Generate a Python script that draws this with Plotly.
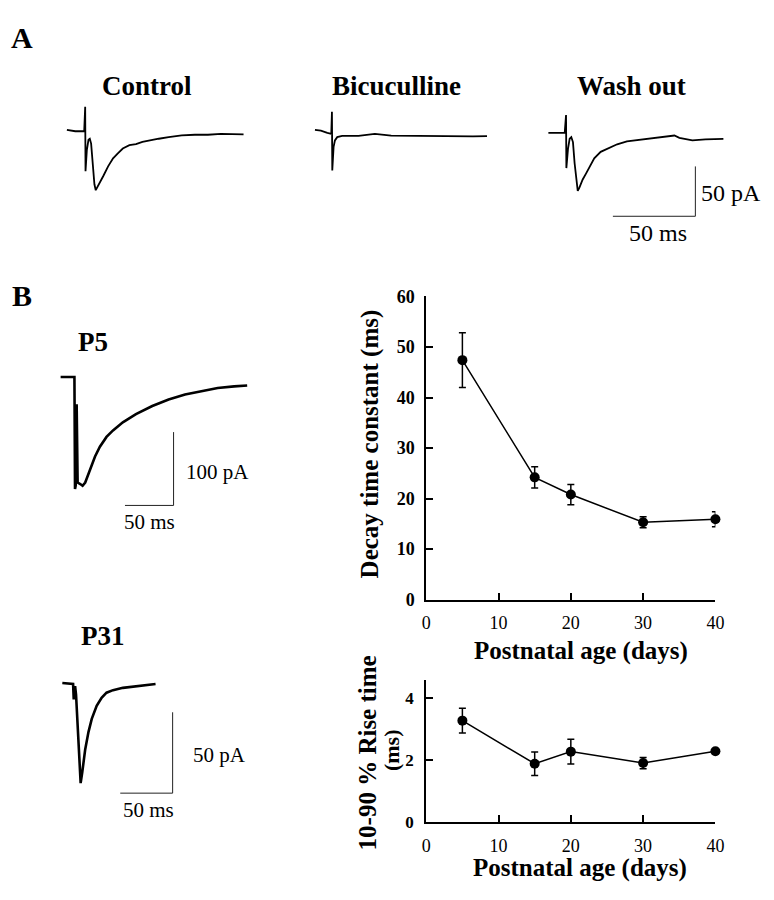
import plotly.graph_objects as go

W, H = 774, 900

# ---------------- data ----------------
AGE_DAYS = [5, 15, 20, 30, 40]
DECAY_MS = [47.4, 24.2, 20.8, 15.3, 15.9]
DECAY_ERR = [5.4, 2.1, 2.0, 1.1, 1.5]
RISE_MS = [3.28, 1.89, 2.28, 1.91, 2.29]
RISE_ERR = [0.40, 0.38, 0.40, 0.18, 0.08]

AGE_TICKS = [0, 10, 20, 30, 40]
DECAY_TICKS = [0, 10, 20, 30, 40, 50, 60]
RISE_TICKS = [0, 2, 4]

# Panel A traces (time in ms from stimulus, current in pA)
CONTROL_T = [-11.3, -6.2, -0.8, -0.2, 0.0, 0.8, 1.8, 2.6, 3.4, 4.4, 5.4, 6.2, 7.1, 8.7, 10.7, 13.7,
             16.7, 19.6, 22.6, 26.6, 30.6, 34.5, 38.5, 44.4, 50.4, 58.3, 66.3, 74.2, 82.1, 90.1, 95.8]
CONTROL_I = [0.7, -0.7, -0.7, 23.9, -40.8, -19.6, -9.2, -8.2, -13.1, -32.7, -53.9, -59.8, -57.2, -52.3,
             -45.8, -35.9, -27.8, -22.9, -18.0, -14.7, -13.7, -11.4, -9.8, -8.2, -6.5, -4.9, -4.2, -4.2,
             -3.3, -3.3, -3.9]

BICUC_T = [-10.5, -6.9, -3.0, -0.6, -0.2, 0.0, 0.8, 1.6, 3.0, 6.0, 15.9, 25.8, 35.7, 45.6, 55.6,
           65.5, 75.4, 85.3, 93.8]
BICUC_I = [0.0, -0.7, -2.9, -3.9, 18.3, -40.5, -17.0, -10.5, -7.2, -5.9, -5.9, -3.9, -5.6, -5.9,
           -5.9, -5.9, -6.2, -6.5, -6.2]

WASH_T = [-10.9, -1.0, -0.2, 0.0, 1.0, 2.0, 3.0, 4.0, 5.0, 6.2, 6.9, 7.9, 9.9, 11.9, 14.9, 16.9,
          20.8, 24.8, 30.8, 36.7, 44.6, 52.6, 60.5, 65.5, 68.5, 76.4, 84.3, 95.2]
WASH_I = [0.0, 0.0, 18.0, -35.3, -15.7, -5.9, -4.2, -9.2, -30.4, -53.3, -58.2, -54.9, -46.7, -40.8,
          -32.0, -25.5, -19.0, -15.7, -11.4, -8.5, -6.9, -5.9, -4.2, -2.6, -4.9, -7.5, -6.5, -5.9]

# Panel B traces
P5_T = [-14.5, -0.3, 0.3, 1.0, 2.0, 3.0, 5.7, 8.1, 10.8, 15.8, 20.9, 25.9, 32.7, 39.4, 49.5, 63.0,
        79.8, 96.6, 113.5, 130.3, 147.1, 164.0, 177.4]
P5_I = [0.0, 0.0, -152.9, -148.0, -37.3, -144.0, -146.0, -148.4, -144.0, -126.2, -108.4, -95.1,
        -81.8, -72.9, -61.8, -50.7, -39.6, -30.7, -24.0, -19.6, -15.1, -12.9, -11.6]

P31_T = [-10.9, -3.1, -0.6, 0.0, 0.6, 1.3, 2.2, 3.8, 5.3, 6.6, 8.1, 10.9, 14.1, 17.2, 21.9, 26.6,
         31.3, 37.5, 46.9, 59.4, 68.8, 78.1]
P31_I = [0.0, -0.4, -0.6, -10.1, -5.0, -2.0, -7.1, -27.2, -49.4, -61.9, -55.4, -41.3, -30.2, -22.2,
         -14.1, -9.1, -6.0, -4.4, -3.0, -2.2, -1.6, -0.6]

# scale bars (ms, pA)
SCALE_A = (50, 50)
SCALE_P5 = (50, 100)
SCALE_P31 = (50, 50)

SERIF = "Liberation Serif"

fig = go.Figure()
layout = {}


def px_x(x):
    return x / W


def px_y(y):
    return 1 - y / H


def trace_axes(n, box, origin, sx, sy):
    l, t, r, b = box
    ox, oy = origin
    layout[f"xaxis{n}"] = dict(domain=[l / W, r / W], range=[(l - ox) / sx, (r - ox) / sx],
                               visible=False, anchor=f"y{n}", fixedrange=True)
    layout[f"yaxis{n}"] = dict(domain=[1 - b / H, 1 - t / H], range=[(oy - b) / sy, (oy - t) / sy],
                               visible=False, anchor=f"x{n}", fixedrange=True)


# hidden axes for the current traces: box (l,t,r,b) in px, origin px, px/ms, px/pA
trace_axes(3, (50, 90, 255, 200), (82.0, 123.3), 1.68, 1.02)
trace_axes(4, (300, 90, 505, 200), (333.3, 122.7), 1.68, 1.02)
trace_axes(5, (545, 90, 750, 216), (571.7, 125.7), 1.68, 1.02)
trace_axes(6, (50, 362, 255, 512), (71.0, 375.3), 0.99, 0.75)
trace_axes(7, (50, 678, 255, 806), (70.0, 688.3), 1.067, 1.654)


def add_trace_line(t, i, n, width):
    fig.add_trace(go.Scatter(x=t, y=i, mode="lines", line=dict(color="black", width=width),
                             xaxis=f"x{n}", yaxis=f"y{n}", hoverinfo="skip", showlegend=False))


def add_scale_bar(n, corner, scale):
    ms, pa = scale
    ct, ci = corner
    fig.add_trace(go.Scatter(x=[ct - ms, ct, ct], y=[ci, ci, ci + pa], mode="lines",
                             line=dict(color="#222", width=1), xaxis=f"x{n}", yaxis=f"y{n}",
                             hoverinfo="skip", showlegend=False))


add_trace_line(CONTROL_T, CONTROL_I, 3, 1.8)
add_trace_line(BICUC_T, BICUC_I, 4, 1.8)
add_trace_line(WASH_T, WASH_I, 5, 1.8)
add_scale_bar(5, (78.2, -83.6), SCALE_A)

add_trace_line(P5_T, P5_I, 6, 2.6)
add_scale_bar(6, (101.7, -175.2), SCALE_P5)

add_trace_line(P31_T, P31_I, 7, 2.6)
add_scale_bar(7, (94.4, -68.1), SCALE_P31)

# ---------------- summary plots ----------------
fig.add_trace(go.Scatter(
    x=AGE_DAYS, y=DECAY_MS, mode="lines+markers",
    line=dict(color="black", width=1.5), marker=dict(color="black", size=10),
    error_y=dict(type="data", array=DECAY_ERR, color="black", thickness=1.5, width=3.5),
    cliponaxis=False, xaxis="x", yaxis="y", showlegend=False))

fig.add_trace(go.Scatter(
    x=AGE_DAYS, y=RISE_MS, mode="lines+markers",
    line=dict(color="black", width=1.5), marker=dict(color="black", size=10),
    error_y=dict(type="data", array=RISE_ERR, color="black", thickness=1.5, width=3.5),
    cliponaxis=False, xaxis="x2", yaxis="y2", showlegend=False))

axis_common = dict(showline=True, linecolor="black", linewidth=2, showgrid=False, zeroline=False,
                   ticks="inside", ticklen=7, tickwidth=1.5, tickcolor="black", fixedrange=True)

layout["xaxis"] = dict(axis_common, domain=[429 / W, 723.5 / W], range=[0, 40], anchor="y",
                       tickvals=AGE_TICKS, ticklabelstandoff=6,
                       tickfont=dict(family=SERIF, size=18, color="black"))
layout["yaxis"] = dict(axis_common, domain=[px_y(603), px_y(293)], range=[0, 60], anchor="x",
                       tickvals=DECAY_TICKS, ticklabelstandoff=6,
                       tickfont=dict(family=SERIF, size=18, color="black", weight="bold"))
layout["xaxis2"] = dict(axis_common, domain=[429 / W, 723.5 / W], range=[0, 40], anchor="y2",
                        tickvals=AGE_TICKS, ticklabelstandoff=6,
                        tickfont=dict(family=SERIF, size=18, color="black"))
layout["yaxis2"] = dict(axis_common, domain=[px_y(830.7), px_y(685)], range=[0, 4.6], anchor="x2",
                        tickvals=RISE_TICKS, ticklabelstandoff=7,
                        tickfont=dict(family=SERIF, size=17, color="black", weight="bold"))

# ---------------- text ----------------
annotations = []


def label(text, x, y, size, bold=True, angle=0, xanchor="center", yanchor="middle"):
    annotations.append(dict(
        text=text, x=px_x(x), y=px_y(y), xref="paper", yref="paper", showarrow=False,
        xanchor=xanchor, yanchor=yanchor, textangle=angle,
        font=dict(family=SERIF, size=size, color="black", weight="bold" if bold else "normal")))


label("A", 17, 28, 30)
label("B", 17, 292, 30)
label("Control", 145, 78, 27)
label("Bicuculline", 399, 78, 27)
label("Wash out", 638, 78, 27)
label("50 pA", 707, 187, 24, bold=False, xanchor="left")
label("50 ms", 665, 228, 24, bold=False)

label("P5", 90, 340, 27)
label("100 pA", 182, 472, 21, bold=False, xanchor="left")
label("50 ms", 147, 524, 21, bold=False)

label("P31", 100, 640, 27)
label("50 pA", 189, 762, 21, bold=False, xanchor="left")
label("50 ms", 146, 818, 21, bold=False)

label("Decay time constant (ms)", 372, 444, 25, angle=-90)
label("Postnatal age (days)", 587, 656, 25)
label("10-90 % Rise time", 369, 760, 25, angle=-90)
label("(ms)", 393, 757, 22, angle=-90)
label("Postnatal age (days)", 586, 878, 25)

fig.update_layout(
    width=W, height=H, margin=dict(l=0, r=0, t=0, b=0),
    paper_bgcolor="white", plot_bgcolor="white",
    showlegend=False, annotations=annotations, **layout)

fig.write_html(
    "out.html",
    config={"displayModeBar": False},
    post_script="document.body.style.margin='0';document.body.style.overflow='hidden';",
)
